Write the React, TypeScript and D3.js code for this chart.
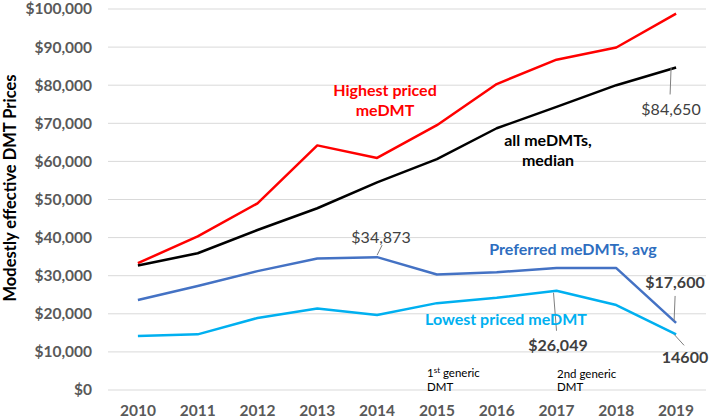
import React from "react";
import * as d3 from "d3";

const years = ["2010","2011","2012","2013","2014","2015","2016","2017","2018","2019"];
const highest = [33300, 40300, 49000, 64200, 60900, 69500, 80300, 86700, 89900, 98800];
const median = [32700, 35900, 42000, 47700, 54500, 60600, 68700, 74300, 80000, 84650];
const preferred = [23600, 27300, 31200, 34500, 34873, 30300, 30900, 32000, 32000, 17600];
const lowest = [14200, 14600, 18900, 21400, 19700, 22800, 24200, 26049, 22300, 14600];
const yTicks = [0, 10000, 20000, 30000, 40000, 50000, 60000, 70000, 80000, 90000, 100000];

const W = 709, H = 420;
const left = 108, right = 706, top = 9, bottom = 390;

export default function App() {
  const x = d3.scaleBand<string>().domain(years).range([left, right]);
  const cx = (i: number) => (x(years[i]) as number) + x.bandwidth() / 2;
  const y = d3.scaleLinear().domain([0, 100000]).range([bottom, top]);
  const line = d3.line<number>().x((_, i) => cx(i)).y(d => y(d));
  const fmt = (v: number) => "$" + d3.format(",")(v);
  const font = "Lato, 'Open Sans', sans-serif";
  const gray = "#595959";
  const series = [
    { data: highest, color: "#FF0000" },
    { data: median, color: "#000000" },
    { data: preferred, color: "#4472C4" },
    { data: lowest, color: "#00B0F0" },
  ];
  return (
    <svg width={W} height={H} style={{ position: "absolute", left: 0, top: 0, fontFamily: font }}>
      <rect width={W} height={H} fill="#fff" />
      {yTicks.map(t => (
        <g key={t}>
          <line x1={left} x2={right} y1={y(t)} y2={y(t)} stroke="#D9D9D9" strokeWidth={1} />
          <text x={92} y={y(t)} dy="0.35em" textAnchor="end" fontSize={15.5} fontWeight="bold" fill={gray}>{fmt(t)}</text>
        </g>
      ))}
      {years.map((yr, i) => (
        <text key={yr} x={cx(i)} y={416} textAnchor="middle" fontSize={15.5} fontWeight="bold" fill={gray}>{yr}</text>
      ))}
      <text transform={`translate(10,188) rotate(-90)`} textAnchor="middle" dy="0.35em" fontSize={16.5} fontWeight="bold" fill="#000">Modestly effective DMT Prices</text>
      {series.map((s, k) => (
        <path key={k} d={line(s.data) as string} fill="none" stroke={s.color} strokeWidth={2.5} strokeLinejoin="round" />
      ))}
      {/* leader lines */}
      <line x1={cx(9) - 5} y1={y(median[9])} x2={cx(9) - 6} y2={y(median[9]) + 27} stroke="#7f7f7f" strokeWidth={1} />
      <line x1={cx(4)} y1={y(preferred[4]) - 2} x2={cx(4) + 5} y2={y(preferred[4]) - 12} stroke="#7f7f7f" strokeWidth={1} />
      <line x1={cx(9) - 2} y1={y(preferred[9]) - 2} x2={cx(9) - 1} y2={y(preferred[9]) - 27} stroke="#7f7f7f" strokeWidth={1} />
      <line x1={cx(7) - 3} y1={y(lowest[7]) + 2} x2={cx(7)} y2={y(lowest[7]) + 40} stroke="#7f7f7f" strokeWidth={1} />
      <line x1={cx(9) - 2} y1={y(lowest[9])} x2={cx(9) + 8} y2={y(lowest[9]) + 11} stroke="#7f7f7f" strokeWidth={1} />

      <text x={385} y={90} dy="0.35em" textAnchor="middle" fontSize={16} fontWeight="bold" fill="#FF0000">Highest priced</text>
      <text x={385} y={110} dy="0.35em" textAnchor="middle" fontSize={16} fontWeight="bold" fill="#FF0000">meDMT</text>
      <text x={548} y={140} dy="0.35em" textAnchor="middle" fontSize={16} fontWeight="bold" fill="#000">all meDMTs,</text>
      <text x={548} y={160} dy="0.35em" textAnchor="middle" fontSize={16} fontWeight="bold" fill="#000">median</text>
      <text x={671} y={109} dy="0.35em" textAnchor="middle" fontSize={16} fill="#404040">{fmt(median[9])}</text>
      <text x={381} y={237} dy="0.35em" textAnchor="middle" fontSize={16} fill="#404040">{fmt(preferred[4])}</text>
      <text x={573} y={249} dy="0.35em" textAnchor="middle" fontSize={16} fontWeight="bold" fill="#2E6EBF">Preferred meDMTs, avg</text>
      <text x={675} y={282} dy="0.35em" textAnchor="middle" fontSize={16} fontWeight="bold" fill="#404040">{fmt(preferred[9])}</text>
      <text x={506} y={319} dy="0.35em" textAnchor="middle" fontSize={16} fontWeight="bold" fill="#00B0F0">Lowest priced meDMT</text>
      <text x={558} y={345} dy="0.35em" textAnchor="middle" fontSize={16} fontWeight="bold" fill="#404040">{fmt(lowest[7])}</text>
      <text x={685} y={357} dy="0.35em" textAnchor="middle" fontSize={16} fontWeight="bold" fill="#404040">{String(lowest[9])}</text>

      <text x={427} y={373} dy="0.35em" fontSize={11.5} fill="#000">1<tspan dy="-4" fontSize={8}>st</tspan><tspan dy="4"> generic</tspan></text>
      <text x={427} y={387} dy="0.35em" fontSize={11.5} fill="#000">DMT</text>
      <text x={557} y={374} dy="0.35em" fontSize={11.5} fill="#000">2nd generic</text>
      <text x={557} y={387} dy="0.35em" fontSize={11.5} fill="#000">DMT</text>
    </svg>
  );
}
